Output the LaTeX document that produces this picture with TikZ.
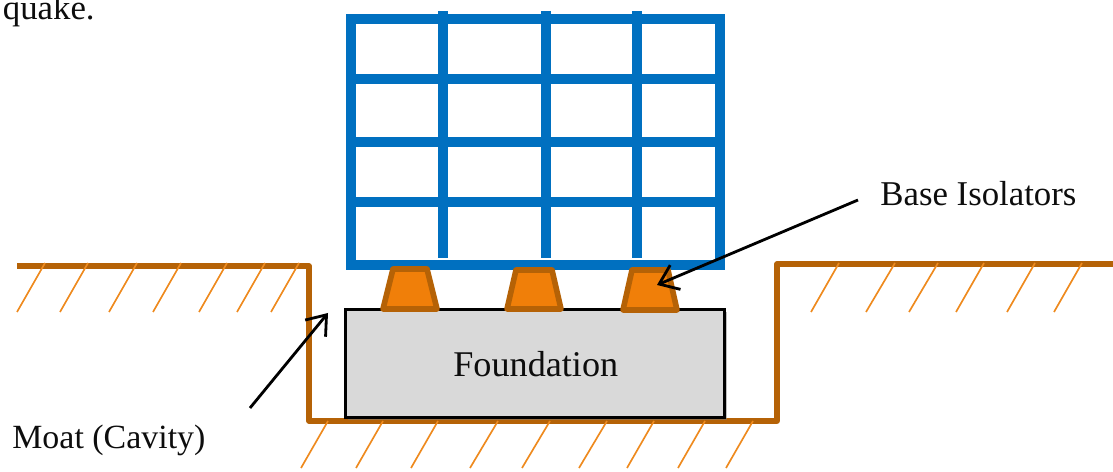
\documentclass[tikz,border=0pt]{standalone}
\usepackage{fontspec}
\setmainfont{Liberation Serif}
\usetikzlibrary{arrows.meta}
\usetikzlibrary{shadows}
\definecolor{framecol}{HTML}{0070C0}
\definecolor{groundcol}{HTML}{B56206}
\definecolor{hatchcol}{HTML}{EE8A1E}
\definecolor{isofill}{HTML}{F07F09}
\definecolor{foundcol}{HTML}{D9D9D9}
\tikzset{
  frameline/.style={draw=framecol, line width=5.67pt},
  groundline/.style={draw=groundcol, line width=2.9pt, line join=round},
  hatchline/.style={draw=hatchcol, line width=0.95pt},
  isolator/.style={draw=groundcol, fill=isofill, line width=3.2pt, line join=round},
  callout/.style={draw=black, line width=1.6pt, -{Straight Barb[length=10pt,width=15pt,line width=1.6pt]}},
  caption/.style={inner sep=0pt, anchor=base west, text=black!95, font=\fontsize{19.8pt}{23pt}\selectfont}
}

\begin{document}
\begin{tikzpicture}[x=0.02cm, y=-0.02cm]
\useasboundingbox (0,0) rectangle (1113,472);

% First, the ground with its moat
\draw[groundline] (17,266) -- (309,266) -- (309,421) -- (777,421) -- (777,264) -- (1113,264);

% Hatching below the ground, one pair of top and bottom x for each line
\foreach \a/\b in {45/17,88/60,137/109,181/153,227/199,265/237,299/271} {
  \draw[hatchline] (\a,263) -- (\b,312);
}
\foreach \a/\b in {839/811,895/866,938/909,984/956,1035/1007,1082/1054} {
  \draw[hatchline] (\a,263) -- (\b,312);
}

% Now the foundation, its shadow falls on the ground line
\draw (535,363.5) node[draw=black, line width=1.5pt, fill=foundcol, minimum width=379*0.02cm, minimum height=108*0.02cm, inner sep=0pt,
  drop shadow={opacity=0.5, shadow xshift=1.5pt, shadow yshift=-1.5pt}] (foundation) {};
\node[caption, font=\fontsize{20.6pt}{23pt}\selectfont] (foundlabel) at (453,376.5) {Foundation};

\foreach \a/\b in {328/301,383/356,438/411,498/470,550/522,607/579,654/627,705/678,753/726} {
  \draw[hatchline] (\a,421) -- (\b,468);
}

% The building frame, then its inner lines
\draw[frameline] (351,19) rectangle (720,265);
\foreach \y in {79,142,202} {
  \draw[frameline] (351,\y) -- (720,\y);
}
\foreach \x in {443,546,637} {
  \draw[frameline] (\x,11) -- (\x,258);
}

% Isolators sit between frame and foundation
\draw[isolator] (393,269) -- (427,269) -- (437,309) -- (383,309) -- cycle;
\draw[isolator] (516,270) -- (552,270) -- (561,309) -- (507,309) -- cycle;
\draw[isolator] (632,270) -- (668,270) -- (677,310) -- (623,310) -- cycle;

% Labels and their arrows
\node[caption] (baselabel) at (880,206) {Base Isolators};
\node[caption, font=\fontsize{19.3pt}{23pt}\selectfont] (moatlabel) at (12,449) {Moat (Cavity)};
\node[caption, anchor=base east] (quakelabel) at (95,20) {quake.};

\coordinate (basefrom) at (858,200);
\coordinate (baseto) at (657,285);
\coordinate (moatfrom) at (250,408);
\coordinate (moatto) at (328,313);
\draw[callout] (basefrom) -- (baseto);
\draw[callout] (moatfrom) -- (moatto);
\end{tikzpicture}
\end{document}
